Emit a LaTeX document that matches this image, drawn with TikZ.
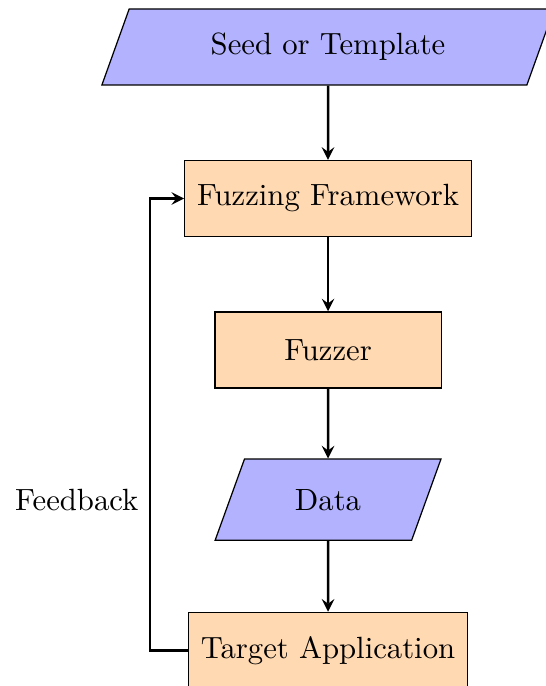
\documentclass[tikz,border=0pt]{standalone}
\usepackage{tikz}
\usetikzlibrary{positioning, shapes.geometric}
\tikzset{
    io/.style={trapezium, trapezium left angle=70, trapezium right angle=110, trapezium stretches=true, draw=black, fill=blue!30, align=center},
    stage/.style={rectangle, draw=black, fill=orange!30, align=center, inner xsep=4pt, minimum height=0.87cm},
    arrow/.style={-stealth, thick}
}
\begin{document}
\begin{tikzpicture}[node distance=0.85cm]
        \useasboundingbox (-3.755,0.538) rectangle (2.484,-7.315);
        % Input
        \node[io, minimum width=5.22cm, minimum height=0.87cm] (Seed) {Seed or Template};
        
        % Pipeline
        \node[stage, below=of Seed] (Framework) {Fuzzing Framework};
        \node[stage, below=of Framework, minimum width=2.59cm] (Fuzzer) {Fuzzer};
        \node[io, below=0.8cm of Fuzzer, minimum width=2.59cm, minimum height=0.93cm] (Data) {Data};
        \node[stage, below=0.81cm of Data] (Target) {Target Application};
        
        \draw[arrow] (Seed) -- (Framework);
        \draw[arrow] (Framework) -- (Fuzzer);
        \draw[arrow] (Fuzzer) -- (Data);
        \draw[arrow] (Data) -- (Target);
        
        % Feedback loop
        \coordinate (Back) at ([xshift=-2.04cm]Data.center);
        \draw[arrow] (Target.west) -| (Back) node[left] {Feedback} |- (Framework.west);
    \end{tikzpicture}
\end{document}
